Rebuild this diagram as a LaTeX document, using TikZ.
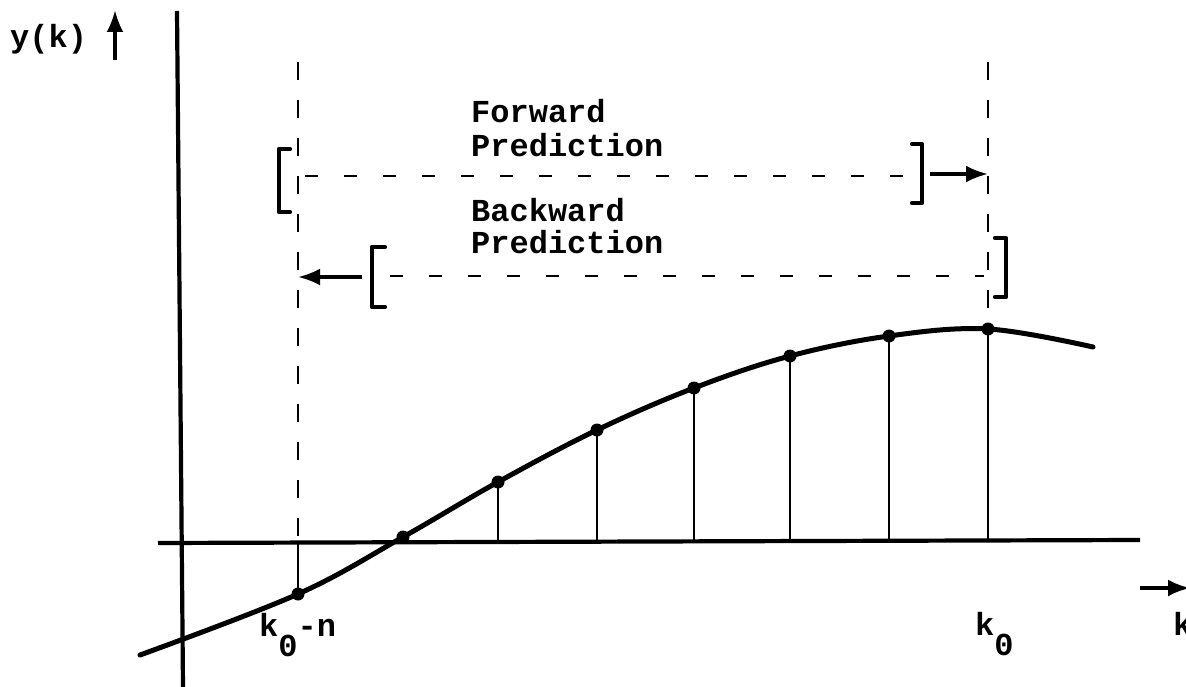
\documentclass[tikz,border=0pt]{standalone}
\usepackage{fontspec}
\setmonofont{Liberation Mono}
\usetikzlibrary{arrows.meta}
\begin{document}
\begin{tikzpicture}[x=1pt,y=-1pt,
  axis/.style={line width=4.2pt},
  curve/.style={line width=5pt, line cap=round},
  stem/.style={line width=2pt},
  guide/.style={line width=2.2pt, dash pattern=on 18pt off 20pt},
  pred/.style={line width=2.4pt, dash pattern=on 13pt off 26pt},
  brk/.style={line width=4.2pt, line join=round, line cap=round},
  arr/.style={line width=3.5pt, -{Latex[length=22pt,width=17pt]}},
  lbl/.style={font=\fontsize{32}{36}\selectfont\ttfamily\bfseries, inner sep=0pt, anchor=base west},
  dot/.style={circle, fill, inner sep=0pt, minimum size=13pt}]
\useasboundingbox (0,0) rectangle (1186,687);
% axes
\coordinate (ytop) at (177,11);
\coordinate (ybot) at (183,687);
\coordinate (xl) at (158,543);
\coordinate (xr) at (1140,540);
\draw[axis] (ytop) -- (ybot);
\draw[axis] (xl) -- (xr);
% curve
\draw[curve] plot[smooth, tension=0.6] coordinates {(140,655) (298,594) (403,537) (498,482) (597,430) (694,388) (790,356) (889,336) (988,329) (1093,347)};
% sample points
\node[dot] (p0) at (298,594) {};
\node[dot] (p1) at (403,537) {};
\node[dot] (p2) at (498,482) {};
\node[dot] (p3) at (597,430) {};
\node[dot] (p4) at (694,388) {};
\node[dot] (p5) at (790,356) {};
\node[dot] (p6) at (889,336) {};
\node[dot] (p7) at (988,329) {};
\coordinate (f0) at (298,542);
\coordinate (f2) at (498,542);
\coordinate (f3) at (597,542);
\coordinate (f4) at (694,541);
\coordinate (f5) at (790,541);
\coordinate (f6) at (889,540);
\coordinate (f7) at (988,540);
\draw[stem] (p0.center) -- (f0);
\draw[stem] (p2.center) -- (f2);
\draw[stem] (p3.center) -- (f3);
\draw[stem] (p4.center) -- (f4);
\draw[stem] (p5.center) -- (f5);
\draw[stem] (p6.center) -- (f6);
\draw[stem] (p7.center) -- (f7);
% guide lines
\coordinate (g0) at (298,62);
\coordinate (g7) at (988,62);
\draw[guide] (g0) -- (f0);
\draw[guide] (g7) -- (p7.center);
% forward prediction
\draw[brk] (290,149) -- (279,149) -- (279,212) -- (290,212);
\draw[brk] (912,144) -- (922,144) -- (922,203) -- (912,203);
\draw[pred] (305,176) -- (905,176);
\coordinate (fa) at (930,174);
\coordinate (fb) at (988,174);
\draw[arr] (fa) -- (fb);
% backward prediction
\draw[brk] (385,247) -- (372,247) -- (372,307) -- (385,307);
\draw[brk] (995,238) -- (1006,238) -- (1006,297) -- (995,297);
\draw[pred] (390,276) -- (984,276);
\coordinate (ba) at (362,277);
\coordinate (bb) at (298,277);
\draw[arr] (ba) -- (bb);
% axis arrows
\coordinate (ya) at (115,60);
\coordinate (yb) at (115,10);
\draw[arr] (ya) -- (yb);
\coordinate (ka) at (1140,588);
\coordinate (kb) at (1190,588);
\draw[arr] (ka) -- (kb);
% labels
\node[lbl] (ylab) at (10,48) {y(k)};
\node[lbl] (fw1) at (471,123) {Forward};
\node[lbl] (fw2) at (471,157) {Prediction};
\node[lbl] (bw1) at (471,222) {Backward};
\node[lbl] (bw2) at (471,253) {Prediction};
\node[lbl] (kn) at (259,636) {k\raisebox{-20pt}{0}-n};
\node[lbl] (k0) at (975,635) {k\raisebox{-20pt}{0}};
\node[lbl] (klab) at (1173,635) {k};
\end{tikzpicture}
\end{document}
